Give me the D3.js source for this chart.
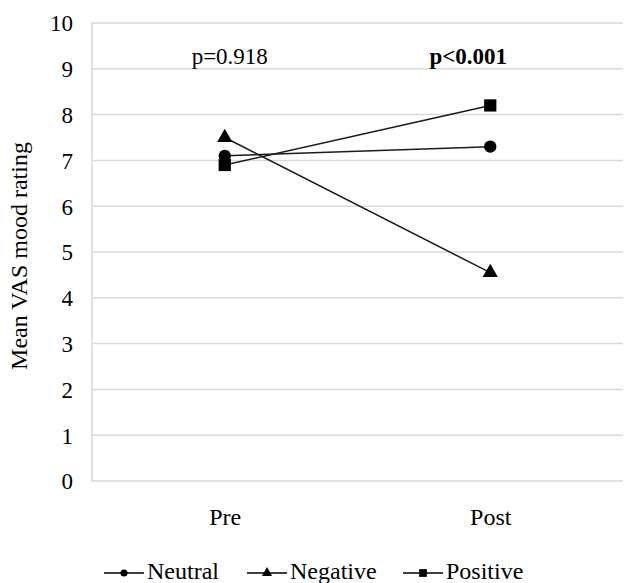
<!DOCTYPE html>
<html>
<head>
<meta charset="utf-8">
<script src="https://cdn.jsdelivr.net/npm/d3@7"></script>
<style>
  body { margin: 0; background: #fff; }
</style>
</head>
<body>
<div id="chart"></div>
<script>
// dati
const categories = ['Pre', 'Post'];
const neutral = [7.1, 7.3];
const negative = [7.5, 4.55];
const positive = [6.9, 8.2];
const yTicks = [0, 1, 2, 3, 4, 5, 6, 7, 8, 9, 10];
const pLabels = ['p=0.918', 'p<0.001'];

const series = [
    { name: 'Neutral', values: neutral, symbol: d3.symbolCircle, size: 120, legendSize: 40 },
    { name: 'Negative', values: negative, symbol: d3.symbolTriangle, size: 100, legendSize: 45 },
    { name: 'Positive', values: positive, symbol: d3.symbolSquare, size: 150, legendSize: 60 }
];

const font = 'Liberation Serif';
const width = 625, height = 583;
const margin = { top: 23, right: 2, bottom: 102, left: 92 };

const svg = d3.select('#chart').append('svg')
    .attr('width', width)
    .attr('height', height)
    .attr('font-family', font);

const x = d3.scalePoint()
    .domain(categories)
    .range([margin.left, width - margin.right])
    .padding(0.5);

const y = d3.scaleLinear()
    .domain([0, 10])
    .range([height - margin.bottom, margin.top]);

// griglia orizzontale
svg.append('g')
    .selectAll('line')
    .data(yTicks)
    .join('line')
    .attr('x1', margin.left)
    .attr('x2', width - margin.right)
    .attr('y1', d => y(d))
    .attr('y2', d => y(d))
    .attr('stroke', '#d9d9d9')
    .attr('stroke-width', 1.5);

// bordo sinistro
svg.append('line')
    .attr('x1', margin.left).attr('x2', margin.left)
    .attr('y1', y(10)).attr('y2', y(0))
    .attr('stroke', '#d9d9d9')
    .attr('stroke-width', 1.5);

// asse y
const yAxis = svg.append('g')
    .attr('transform', `translate(${margin.left - 19},0)`)
    .call(d3.axisLeft(y).tickValues(yTicks).tickSize(0).tickPadding(0))
    .attr('font-family', font)
    .attr('font-size', 23);
yAxis.select('.domain').remove();
yAxis.selectAll('text')
    .attr('fill', '#000')
    .attr('dy', '0.34em');

// asse x
const xAxis = svg.append('g')
    .attr('transform', `translate(0,${y(0)})`)
    .call(d3.axisBottom(x).tickSize(0).tickPadding(0))
    .attr('font-family', font)
    .attr('font-size', 24);
xAxis.select('.domain').remove();
xAxis.selectAll('text')
    .attr('fill', '#000')
    .attr('dy', null)
    .attr('y', 44);

// titolo asse y
svg.append('text')
    .attr('transform', `translate(27,${(y(0) + y(10)) / 2 + 4}) rotate(-90)`)
    .attr('text-anchor', 'middle')
    .attr('font-size', 24)
    .text('Mean VAS mood rating');

// linee delle serie
const line = d3.line()
    .x((d, i) => x(categories[i]))
    .y(d => y(d));

series.forEach(s => {
    svg.append('path')
        .datum(s.values)
        .attr('d', line)
        .attr('fill', 'none')
        .attr('stroke', '#1a1a1a')
        .attr('stroke-width', 1.5);
});

series.forEach(s => {
    svg.append('g')
        .selectAll('path')
        .data(s.values)
        .join('path')
        .attr('transform', (d, i) => `translate(${x(categories[i])},${y(d)})`)
        .attr('d', d3.symbol().type(s.symbol).size(s.size))
        .attr('fill', '#000');
});

// etichette p
svg.append('g')
    .selectAll('text')
    .data(pLabels)
    .join('text')
    .attr('x', (d, i) => x(categories[i]) + (i === 0 ? 5 : -22))
    .attr('y', y(9) - 5)
    .attr('text-anchor', 'middle')
    .attr('font-size', 23)
    .attr('font-weight', (d, i) => i === 1 ? 'bold' : 'normal')
    .text(d => d);

// legenda
const legendX = [104, 247, 403];
const legend = svg.append('g')
    .selectAll('g')
    .data(series)
    .join('g')
    .attr('transform', (d, i) => `translate(${legendX[i]},573)`);

legend.append('line')
    .attr('x1', 0).attr('x2', 40)
    .attr('stroke', '#000')
    .attr('stroke-width', 1.5);

legend.append('path')
    .attr('transform', 'translate(20,0)')
    .attr('d', d => d3.symbol().type(d.symbol).size(d.legendSize)())
    .attr('fill', '#000');

legend.append('text')
    .attr('x', 43)
    .attr('y', 6)
    .attr('font-size', 24)
    .text(d => d.name);
</script>
</body>
</html>
